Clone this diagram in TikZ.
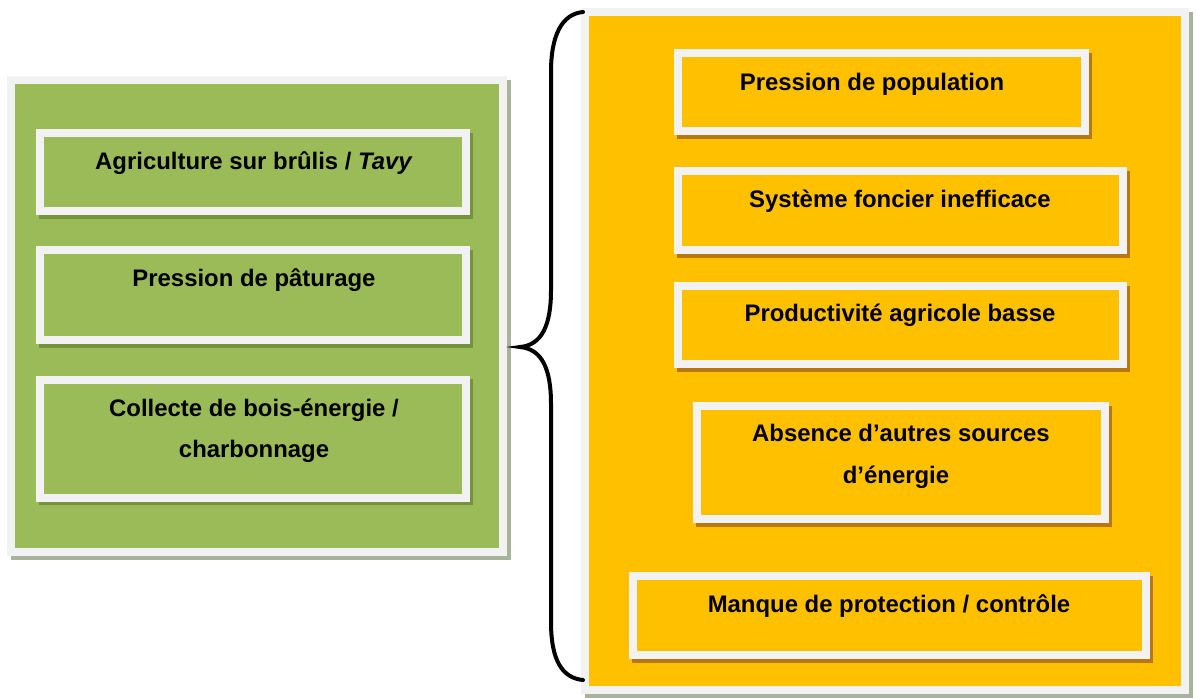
\documentclass[tikz,border=0pt]{standalone}
\usepackage{fontspec}
\setmainfont{Liberation Sans}
\begin{document}
\begin{tikzpicture}[x=1pt,y=-1pt,
  lbl/.style={font=\fontsize{23.9}{28}\selectfont\bfseries, anchor=base, inner sep=0pt},
  frame/.style={draw=lightframe, line width=8pt, inner sep=0pt},
  panelbox/.style={frame, preaction={draw=panelshadow, fill=panelshadow, line width=8pt, transform canvas={shift={(3.5pt,-3.5pt)}}}},
  gbox/.style={frame, fill=leafgreen, preaction={draw=greenshadow, fill=greenshadow, line width=8pt, transform canvas={shift={(3pt,-3.5pt)}}}},
  ybox/.style={frame, fill=amber, preaction={draw=ambershadow, fill=ambershadow, line width=8pt, transform canvas={shift={(3pt,-3.5pt)}}}},
  bracestyle/.style={line width=4pt, black, line cap=round}
]
\definecolor{leafgreen}{HTML}{9BBB59}
\definecolor{greenshadow}{HTML}{76923C}
\definecolor{amber}{HTML}{FFC000}
\definecolor{ambershadow}{HTML}{B8770F}
\definecolor{lightframe}{HTML}{F2F2F2}
\definecolor{panelshadow}{HTML}{A8B39B}
\useasboundingbox (0,0) rectangle (1198,697);
\fill[white] (0,0) rectangle (1198,697);

% left panel
\node[panelbox, fill=leafgreen, minimum width=492pt, minimum height=472pt] (lp) at (257,316) {};
\node[gbox, minimum width=426pt, minimum height=78pt] (l1) at (253,172) {};
\node[gbox, minimum width=426pt, minimum height=90pt] (l2) at (253,295) {};
\node[gbox, minimum width=426pt, minimum height=118pt] (l3) at (253,438.5) {};
\node[lbl] (t1) at (254,169) {Agriculture sur brûlis / \textit{Tavy}};
\node[lbl] (t2) at (254,286) {Pression de pâturage};
\node[lbl] (t3a) at (254,416) {Collecte de bois-énergie /};
\node[lbl] (t3b) at (254,457) {charbonnage};

% right panel
\node[panelbox, fill=amber, minimum width=600pt, minimum height=678pt] (rp) at (885,351) {};
\node[ybox, minimum width=407pt, minimum height=78pt] (r1) at (881.5,92) {};
\node[ybox, minimum width=445pt, minimum height=79pt] (r2) at (900.5,210.5) {};
\node[ybox, minimum width=445pt, minimum height=78pt] (r3) at (900.5,325) {};
\node[ybox, minimum width=408pt, minimum height=113pt] (r4) at (901,462.5) {};
\node[ybox, minimum width=513pt, minimum height=79pt] (r5) at (889.5,615.5) {};
\node[lbl] (u1) at (872,90) {Pression de population};
\node[lbl] (u2) at (900,207) {Système foncier inefficace};
\node[lbl] (u3) at (900,321) {Productivité agricole basse};
\node[lbl] (u4a) at (901,441) {Absence d’autres sources};
\node[lbl] (u4b) at (896,483) {d’énergie};
\node[lbl] (u5) at (889,612) {Manque de protection / contrôle};

% brace
\draw[bracestyle] (583,12) .. controls (562,14) and (551,35) .. (551,72) -- (551,290)
  .. controls (551,325) and (542,345) .. (520,347)
  .. controls (542,349) and (551,369) .. (551,404) -- (551,622)
  .. controls (551,660) and (562,678) .. (583,680);
\end{tikzpicture}
\end{document}
